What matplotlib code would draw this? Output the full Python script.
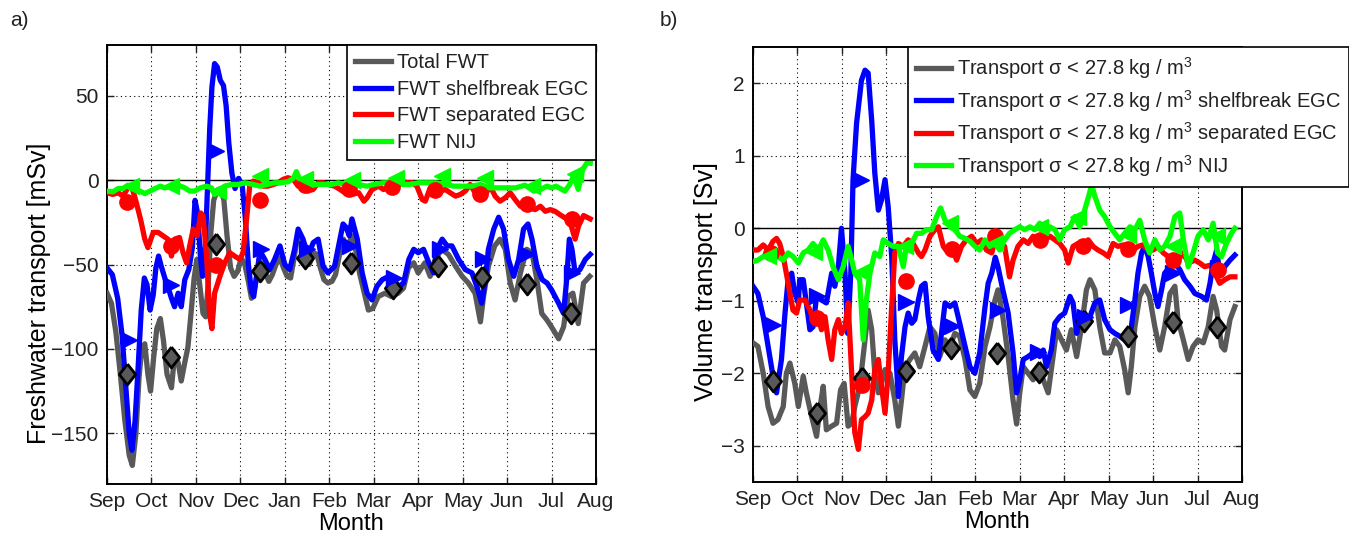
import matplotlib
matplotlib.use("Agg")
import matplotlib.pyplot as plt
import numpy as np

plt.rcParams["font.family"] = ["Liberation Sans", "DejaVu Sans"]
plt.rcParams["mathtext.default"] = "regular"
plt.rcParams["font.size"] = 15
plt.rcParams["text.color"] = "#222222"

months = ["Sep", "Oct", "Nov", "Dec", "Jan", "Feb", "Mar", "Apr", "May", "Jun", "Jul", "Aug"]

GREY = "#595959"
BLUE = "#0000ff"
RED = "#ff0000"
GREEN = "#00ff00"

# ---------------- a) freshwater transport [mSv], (month, value) ----------------
fwt_total = [
    (0, -67), (0.1, -73), (0.2, -90), (0.3, -115), (0.4, -142), (0.5, -163), (0.57, -169),
    (0.65, -150), (0.72, -117), (0.78, -100), (0.85, -97), (0.92, -115), (0.98, -125),
    (1.05, -105), (1.12, -88), (1.2, -82), (1.27, -95), (1.35, -115), (1.45, -123),
    (1.52, -104), (1.6, -108), (1.67, -119), (1.75, -108), (1.82, -99), (1.9, -76),
    (1.96, -58), (2.02, -47), (2.09, -63), (2.16, -79), (2.22, -81), (2.28, -60),
    (2.34, -30), (2.4, -12), (2.48, -6), (2.56, -5), (2.63, -12), (2.7, -33), (2.78, -52),
    (2.86, -57), (2.94, -54), (3.02, -46), (3.1, -50), (3.18, -60), (3.25, -70),
    (3.32, -64), (3.4, -52), (3.48, -50), (3.56, -55), (3.64, -60), (3.72, -56),
    (3.8, -50), (3.89, -46), (3.97, -52), (4.05, -57), (4.13, -58), (4.21, -46),
    (4.3, -31), (4.38, -38), (4.46, -49), (4.55, -50), (4.64, -43), (4.72, -44),
    (4.8, -52), (4.88, -59), (4.97, -61), (5.06, -60), (5.14, -56), (5.24, -43),
    (5.32, -35), (5.4, -40), (5.51, -33), (5.6, -42), (5.68, -55), (5.78, -66),
    (5.88, -77), (5.98, -76), (6.1, -69), (6.25, -67), (6.4, -69), (6.55, -67),
    (6.67, -64), (6.78, -52), (6.9, -49), (7.0, -55), (7.15, -49), (7.27, -57),
    (7.38, -47), (7.53, -41), (7.68, -44), (7.84, -51), (7.99, -57), (8.13, -61),
    (8.28, -67), (8.4, -84), (8.47, -69), (8.58, -51), (8.72, -39), (8.84, -35),
    (8.96, -41), (9.07, -61), (9.18, -71), (9.3, -55), (9.44, -41), (9.56, -43),
    (9.67, -59), (9.78, -79), (9.9, -83), (10.0, -87), (10.16, -94), (10.27, -87),
    (10.37, -69), (10.48, -67), (10.6, -85), (10.72, -61), (10.86, -57),
]
fwt_shelfbreak = [
    (0, -52), (0.12, -56), (0.24, -70), (0.34, -92), (0.43, -125), (0.5, -150),
    (0.56, -160), (0.63, -143), (0.7, -111), (0.77, -77), (0.84, -58), (0.9, -62),
    (0.97, -77), (1.04, -68), (1.1, -52), (1.16, -45), (1.22, -51), (1.3, -58),
    (1.38, -64), (1.45, -70), (1.52, -75), (1.6, -67), (1.67, -75), (1.75, -59),
    (1.84, -53), (1.92, -40), (1.98, -12), (2.04, -20), (2.1, -45), (2.15, -57),
    (2.21, -40), (2.26, -5), (2.31, 30), (2.36, 55), (2.42, 69), (2.48, 67), (2.55, 59),
    (2.62, 56), (2.68, 44), (2.74, 22), (2.81, 4), (2.88, -5), (2.96, 1), (3.04, -3),
    (3.11, -22), (3.18, -50), (3.25, -66), (3.3, -69), (3.37, -56), (3.44, -42),
    (3.55, -47), (3.66, -53), (3.77, -47), (3.89, -39), (4.0, -50), (4.11, -53),
    (4.22, -41), (4.3, -29), (4.41, -35), (4.52, -45), (4.64, -37), (4.75, -35),
    (4.86, -51), (4.97, -55), (5.12, -51), (5.24, -35), (5.31, -26), (5.38, -28),
    (5.45, -33), (5.51, -23), (5.63, -35), (5.74, -55), (5.85, -67), (5.96, -71),
    (6.07, -63), (6.19, -59), (6.34, -57), (6.45, -59), (6.56, -63), (6.67, -61),
    (6.79, -47), (6.9, -41), (7.0, -43), (7.12, -41), (7.24, -49), (7.35, -55),
    (7.42, -41), (7.54, -35), (7.65, -39), (7.76, -39), (7.91, -47), (8.06, -53),
    (8.21, -55), (8.32, -63), (8.43, -73), (8.51, -59), (8.58, -41), (8.7, -29),
    (8.81, -22), (8.92, -29), (9.03, -47), (9.15, -57), (9.26, -47), (9.37, -29),
    (9.47, -26), (9.56, -35), (9.67, -51), (9.79, -59), (9.9, -61), (10.0, -65),
    (10.16, -73), (10.27, -79), (10.34, -59), (10.4, -35), (10.46, -41), (10.53, -55),
    (10.64, -53), (10.76, -47), (10.87, -44),
]
fwt_separated = [
    (0, -7.5), (0.13, -8.5), (0.25, -7.5), (0.36, -9.5), (0.47, -4.6), (0.55, -3.6),
    (0.62, -9.5), (0.7, -17.5), (0.77, -25), (0.85, -35), (0.92, -40), (1.04, -31),
    (1.15, -31), (1.26, -33), (1.37, -35), (1.45, -45), (1.52, -35), (1.63, -34),
    (1.71, -43), (1.79, -49), (1.86, -39), (1.94, -29), (2.03, -33), (2.11, -19.5),
    (2.16, -21), (2.24, -45), (2.31, -80), (2.36, -88), (2.42, -67), (2.54, -57),
    (2.65, -49), (2.76, -43), (2.87, -45), (2.99, -47), (3.06, -43), (3.14, -23),
    (3.21, -3.6), (3.29, -0.6), (3.4, -1.6), (3.51, -3.6), (3.62, -3.6), (3.74, -2.6),
    (3.85, -1.6), (3.96, 0.4), (4.07, 1.4), (4.19, 0.4), (4.3, -3.6), (4.41, -2.6),
    (4.52, -6.5), (4.64, -5.5), (4.75, -1.6), (4.86, -1.6), (4.97, -2.6), (5.12, -3.6),
    (5.24, -5.5), (5.35, -7.5), (5.51, -8.5), (5.66, -7.5), (5.78, -12.5), (5.85, -10.5),
    (5.96, -5.6), (6.11, -3.6), (6.22, -5.6), (6.34, -3.6), (6.49, -1.6), (6.64, -0.6),
    (6.75, -1.6), (6.86, -1.6), (6.97, -3.6), (7.09, -11.5), (7.16, -12.5), (7.27, -4.6),
    (7.39, -5.6), (7.5, -6.5), (7.61, -5.6), (7.72, -7.5), (7.84, -9.5), (7.95, -8.5),
    (8.06, -6.5), (8.17, -2.6), (8.28, -7.5), (8.4, -9.5), (8.51, -8.5), (8.62, -3.6),
    (8.73, -9.5), (8.84, -12.5), (8.96, -10.5), (9.07, -7.5), (9.18, -11.5), (9.3, -15.5),
    (9.41, -13.5), (9.52, -16.5), (9.63, -17.5), (9.75, -15.5), (9.86, -18.5),
    (9.97, -17.5), (10.08, -18.5), (10.19, -20.5), (10.31, -22.5), (10.42, -25),
    (10.53, -35), (10.61, -27), (10.72, -21), (10.87, -23),
]
fwt_nij = [
    (0, -6.5), (0.13, -7), (0.25, -5), (0.36, -5), (0.47, -3), (0.55, -5), (0.7, -6),
    (0.85, -8), (0.97, -6.5), (1.08, -5), (1.2, -3.6), (1.3, -4.6), (1.45, -3.6),
    (1.6, -3), (1.75, -4.6), (1.86, -6.5), (1.97, -6.5), (2.1, -4.6), (2.24, -3.6),
    (2.35, -4.6), (2.42, -8.5), (2.5, -6.5), (2.65, -3.6), (2.8, -2.6), (2.95, -2.6),
    (3.1, -1.6), (3.29, -2.6), (3.44, -3.6), (3.6, -2.6), (3.77, -1.6), (3.9, -1.6),
    (4.07, -1), (4.19, 1), (4.26, 5), (4.34, 0), (4.45, -2), (4.6, -3), (4.75, -2.6),
    (4.9, -2.6), (5.05, -2.6), (5.2, -1.6), (5.35, -2.6), (5.5, -1.6), (5.66, -2.6),
    (5.85, -3.6), (6.0, -2.6), (6.22, -1.6), (6.4, -1.6), (6.6, -2.6), (6.8, -2.6),
    (7.0, -1.6), (7.2, -1.6), (7.4, -1.6), (7.6, -2.6), (7.8, -3.6), (8.0, -3.6),
    (8.2, -3.6), (8.4, -2.6), (8.6, -4.6), (8.8, -4.6), (9.0, -4.6), (9.2, -4.6),
    (9.4, -3), (9.6, -6.5), (9.75, -5.5), (9.9, -3.6), (10.0, -4.6), (10.1, -3.6),
    (10.3, -6.5), (10.4, -3), (10.5, 2.4), (10.6, -5.5), (10.7, 6.3), (10.8, 10.3),
    (10.87, 10),
]

# monthly symbols on each curve
fwt_total_mk = [(0.44, -114.6), (1.43, -105), (2.45, -38), (3.44, -53.6), (4.45, -46),
                (5.48, -49), (6.44, -64), (7.45, -50.8), (8.44, -57.5), (9.45, -61.5),
                (10.44, -79)]
fwt_shelfbreak_mk = [(0.5, -95), (1.45, -62), (2.46, 17), (3.47, -41), (4.49, -41),
                     (5.47, -39), (6.45, -58), (7.5, -41), (8.45, -47), (9.45, -44),
                     (10.46, -55)]
fwt_separated_mk = [(0.44, -13), (1.45, -39), (2.46, -50), (3.44, -12), (4.45, -3),
                    (5.45, -5), (6.4, -4), (7.38, -6), (8.38, -8), (9.45, -14),
                    (10.46, -23)]
fwt_nij_mk = [(0.55, -3.6), (1.45, -3.6), (2.5, -6.5), (3.44, 2.4), (4.45, 0.4),
              (5.5, 0), (6.49, 1.4), (7.54, 2.4), (8.5, 1.4), (9.56, -3.6), (10.53, 3.4)]

# ---------------- b) volume transport [Sv], (month, value) ----------------
vol_total = [
    (0, -1.58), (0.11, -1.63), (0.23, -2.0), (0.34, -2.46), (0.45, -2.69), (0.56, -2.64),
    (0.68, -2.46), (0.75, -2.0), (0.83, -1.86), (0.94, -2.14), (1.02, -2.46),
    (1.13, -2.04), (1.2, -2.27), (1.32, -2.6), (1.43, -2.87), (1.5, -2.5), (1.58, -2.18),
    (1.65, -2.78), (1.77, -2.73), (1.88, -2.69), (1.97, -2.23), (2.05, -2.14),
    (2.14, -2.73), (2.22, -2.69), (2.29, -2.46), (2.4, -2.18), (2.52, -1.54),
    (2.59, -1.13), (2.67, -1.4), (2.74, -2.0), (2.82, -2.27), (2.89, -2.14),
    (2.97, -1.95), (3.08, -2.0), (3.19, -2.37), (3.27, -2.73), (3.34, -2.37),
    (3.42, -1.91), (3.53, -1.81), (3.64, -1.72), (3.75, -1.91), (3.87, -1.63),
    (3.98, -1.36), (4.09, -1.45), (4.2, -1.77), (4.32, -1.54), (4.43, -1.63),
    (4.54, -1.45), (4.65, -1.49), (4.77, -1.81), (4.88, -2.23), (4.99, -2.32),
    (5.1, -2.14), (5.22, -1.63), (5.33, -1.36), (5.44, -1.0), (5.51, -0.85),
    (5.62, -1.22), (5.74, -1.77), (5.85, -2.37), (5.93, -2.7), (6.0, -2.27),
    (6.08, -1.91), (6.19, -2.0), (6.3, -2.09), (6.41, -2.0), (6.53, -2.09),
    (6.64, -2.27), (6.75, -1.77), (6.83, -1.4), (6.94, -1.54), (7.05, -1.68),
    (7.16, -1.4), (7.28, -1.77), (7.39, -1.36), (7.5, -0.85), (7.58, -0.71),
    (7.69, -0.85), (7.8, -1.36), (7.91, -1.72), (8.03, -1.72), (8.14, -1.54),
    (8.25, -1.63), (8.36, -1.95), (8.44, -2.27), (8.51, -1.91), (8.59, -1.36),
    (8.7, -0.94), (8.81, -0.8), (8.92, -0.94), (9.04, -1.36), (9.15, -1.68),
    (9.26, -1.36), (9.38, -0.9), (9.49, -0.8), (9.56, -1.26), (9.68, -1.54),
    (9.79, -1.81), (9.9, -1.63), (10.01, -1.54), (10.13, -1.58), (10.24, -1.36),
    (10.35, -0.94), (10.43, -1.13), (10.54, -1.63), (10.61, -1.68), (10.73, -1.26),
    (10.84, -1.08),
]
vol_shelfbreak = [
    (0, -0.8), (0.11, -0.9), (0.23, -1.22), (0.34, -1.63), (0.45, -2.04), (0.53, -2.27),
    (0.64, -1.81), (0.72, -1.17), (0.79, -0.71), (0.87, -0.62), (0.94, -0.9),
    (1.02, -1.03), (1.05, -0.71), (1.13, -0.71), (1.2, -1.03), (1.28, -1.4),
    (1.35, -1.36), (1.43, -0.94), (1.54, -0.99), (1.65, -1.03), (1.77, -0.62),
    (1.84, -0.8), (1.92, -0.53), (1.99, 0.0), (2.07, -0.62), (2.13, -1.45), (2.2, -0.62),
    (2.25, 0.67), (2.33, 1.45), (2.44, 2.04), (2.52, 2.18), (2.59, 2.14), (2.67, 1.49),
    (2.74, 0.76), (2.82, 0.25), (2.89, 0.39), (2.97, 0.67), (3.04, 0.3), (3.12, -0.39),
    (3.19, -1.54), (3.27, -2.32), (3.34, -1.77), (3.42, -1.36), (3.49, -1.17),
    (3.57, -1.31), (3.64, -1.26), (3.72, -0.99), (3.79, -0.8), (3.87, -0.76),
    (3.94, -1.22), (4.05, -1.68), (4.17, -1.81), (4.24, -1.45), (4.32, -1.03),
    (4.43, -1.08), (4.54, -1.03), (4.65, -1.31), (4.77, -1.63), (4.88, -1.91),
    (4.99, -2.0), (5.1, -1.72), (5.22, -1.08), (5.29, -0.76), (5.37, -0.62),
    (5.45, -0.4), (5.51, -0.53), (5.62, -0.85), (5.74, -1.17), (5.85, -1.72),
    (5.93, -2.27), (6.0, -2.09), (6.08, -1.81), (6.19, -1.77), (6.3, -1.72),
    (6.38, -1.68), (6.45, -1.77), (6.53, -1.68), (6.6, -1.91), (6.71, -1.68),
    (6.79, -1.31), (6.9, -1.22), (7.01, -1.17), (7.13, -0.94), (7.2, -1.03),
    (7.28, -1.45), (7.35, -1.22), (7.46, -1.26), (7.58, -1.22), (7.69, -1.03),
    (7.8, -0.99), (7.91, -1.26), (8.03, -1.4), (8.14, -1.45), (8.25, -1.49),
    (8.36, -1.54), (8.44, -1.54), (8.51, -1.36), (8.59, -0.99), (8.66, -0.62),
    (8.74, -0.34), (8.81, -0.25), (8.89, -0.39), (8.96, -0.62), (9.04, -0.9),
    (9.11, -1.08), (9.19, -0.85), (9.26, -0.62), (9.38, -0.53), (9.49, -0.48),
    (9.6, -0.57), (9.71, -0.71), (9.83, -0.8), (9.94, -0.9), (10.09, -0.94),
    (10.2, -0.99), (10.28, -0.76), (10.35, -0.48), (10.43, -0.3), (10.5, -0.62),
    (10.61, -0.53), (10.73, -0.44), (10.84, -0.37),
]
vol_separated = [
    (0, -0.3), (0.11, -0.3), (0.23, -0.23), (0.34, -0.3), (0.45, -0.18), (0.53, -0.14),
    (0.6, -0.21), (0.68, -0.39), (0.75, -0.62), (0.83, -0.9), (0.9, -1.13),
    (0.98, -1.17), (1.05, -0.99), (1.17, -0.99), (1.28, -1.13), (1.35, -1.26),
    (1.47, -1.22), (1.54, -1.4), (1.62, -1.22), (1.69, -1.54), (1.77, -1.81),
    (1.84, -1.4), (1.92, -1.26), (1.99, -1.45), (2.07, -1.36), (2.14, -1.03),
    (2.22, -2.0), (2.29, -2.82), (2.37, -3.05), (2.44, -2.64), (2.52, -2.6),
    (2.59, -2.55), (2.67, -2.37), (2.74, -1.95), (2.82, -1.81), (2.89, -2.18),
    (2.97, -2.55), (3.04, -2.0), (3.12, -1.08), (3.19, -0.34), (3.27, -0.21),
    (3.38, -0.25), (3.49, -0.16), (3.6, -0.21), (3.72, -0.34), (3.79, -0.39),
    (3.87, -0.3), (3.98, -0.11), (4.09, -0.02), (4.17, 0.02), (4.28, -0.25),
    (4.39, -0.34), (4.5, -0.3), (4.58, -0.44), (4.69, -0.25), (4.8, -0.16),
    (4.92, -0.11), (5.03, -0.21), (5.14, -0.16), (5.25, -0.3), (5.37, -0.34),
    (5.46, -0.14), (5.55, -0.21), (5.66, -0.25), (5.77, -0.67), (5.85, -0.44),
    (5.96, -0.25), (6.08, -0.16), (6.19, -0.21), (6.3, -0.11), (6.41, -0.21),
    (6.56, -0.16), (6.68, -0.11), (6.79, -0.16), (6.9, -0.21), (7.01, -0.3),
    (7.09, -0.48), (7.2, -0.25), (7.31, -0.21), (7.43, -0.25), (7.54, -0.16),
    (7.65, -0.25), (7.76, -0.3), (7.88, -0.34), (7.99, -0.39), (8.1, -0.21),
    (8.21, -0.25), (8.33, -0.23), (8.44, -0.25), (8.55, -0.3), (8.66, -0.25),
    (8.77, -0.23), (8.89, -0.3), (9.0, -0.3), (9.11, -0.25), (9.23, -0.34),
    (9.34, -0.39), (9.45, -0.44), (9.56, -0.44), (9.68, -0.34), (9.79, -0.48),
    (9.94, -0.44), (10.05, -0.48), (10.16, -0.53), (10.28, -0.51), (10.39, -0.62),
    (10.5, -0.76), (10.61, -0.71), (10.73, -0.67), (10.84, -0.67),
]
vol_nij = [
    (0, -0.46), (0.11, -0.44), (0.23, -0.39), (0.34, -0.34), (0.45, -0.3), (0.56, -0.39),
    (0.68, -0.44), (0.79, -0.34), (0.9, -0.39), (1.02, -0.48), (1.13, -0.34),
    (1.24, -0.3), (1.35, -0.21), (1.47, -0.3), (1.58, -0.16), (1.69, -0.3),
    (1.8, -0.53), (1.92, -0.71), (2.03, -0.53), (2.14, -0.25), (2.22, -0.44),
    (2.29, -0.62), (2.4, -0.71), (2.48, -1.54), (2.55, -0.99), (2.63, -0.62),
    (2.74, -0.34), (2.85, -0.39), (2.93, -0.16), (3.04, -0.21), (3.15, -0.25),
    (3.27, -0.25), (3.38, -0.53), (3.45, -0.25), (3.57, -0.21), (3.68, -0.07),
    (3.79, -0.07), (3.9, -0.02), (4.02, -0.02), (4.13, 0.16), (4.22, 0.28),
    (4.32, 0.11), (4.43, 0.02), (4.54, -0.02), (4.65, -0.11), (4.77, -0.14),
    (4.88, -0.18), (4.99, -0.25), (5.1, -0.3), (5.22, -0.16), (5.33, -0.25),
    (5.44, -0.2), (5.55, -0.3), (5.66, -0.16), (5.77, -0.07), (5.89, -0.02),
    (6.0, 0.02), (6.11, -0.02), (6.23, 0.02), (6.34, -0.02), (6.45, 0.07),
    (6.56, -0.11), (6.68, 0.02), (6.79, -0.02), (6.9, -0.16), (7.01, -0.02),
    (7.13, 0.02), (7.24, 0.16), (7.35, 0.02), (7.46, 0.25), (7.55, 0.44), (7.62, 0.6),
    (7.69, 0.44), (7.8, 0.25), (7.91, 0.16), (8.03, 0.02), (8.14, -0.07),
    (8.25, -0.16), (8.36, -0.07), (8.48, 0.02), (8.59, -0.02), (8.7, 0.11),
    (8.81, -0.16), (8.92, -0.34), (9.04, -0.16), (9.15, -0.3), (9.26, -0.25),
    (9.38, -0.11), (9.49, 0.16), (9.6, 0.21), (9.68, -0.16), (9.79, -0.53),
    (9.9, -0.34), (10.01, -0.11), (10.13, -0.02), (10.24, -0.16), (10.35, 0.07),
    (10.45, -0.34), (10.54, -0.39), (10.65, -0.21), (10.76, -0.07), (10.84, 0.0),
]

vol_total_mk = [(0.44, -2.11), (1.44, -2.55), (2.45, -2.06), (3.45, -1.97), (4.46, -1.65),
                (5.48, -1.72), (6.43, -1.98), (7.44, -1.28), (8.44, -1.49), (9.45, -1.29),
                (10.44, -1.36)]
vol_shelfbreak_mk = [(0.45, -1.34), (1.43, -0.94), (2.44, 0.67), (3.45, -1.02), (4.47, -1.35),
                     (5.5, -1.13), (6.41, -1.7), (7.46, -1.22), (8.44, -1.06), (9.45, -0.62),
                     (10.46, -0.55)]
vol_separated_mk = [(0.41, -0.34), (1.43, -1.24), (2.46, -2.16), (3.45, -0.73), (4.47, -0.28),
                    (5.44, -0.11), (6.45, -0.16), (7.43, -0.25), (8.44, -0.28), (9.45, -0.44),
                    (10.46, -0.57)]
vol_nij_mk = [(0.34, -0.38), (1.38, -0.33), (2.43, -0.6), (3.42, -0.25), (4.43, 0.07),
              (5.44, -0.2), (6.45, 0.02), (7.3, 0.16), (8.44, -0.09), (9.45, -0.25),
              (10.43, -0.11)]

labels_a = ["Total FWT", "FWT shelfbreak EGC", "FWT separated EGC", "FWT NIJ"]
sigma = r"Transport $\sigma$ < 27.8 kg / m$^3$"
labels_b = [sigma, sigma + " shelfbreak EGC", sigma + " separated EGC", sigma + " NIJ"]

# tall diamond, like MATLAB's 'd'
tall_diamond = [(0, 1), (0.78, 0), (0, -1), (-0.78, 0), (0, 1)]

styles = [
    dict(color=GREY, marker=tall_diamond, mfc=GREY, mec="black", mew=2.0, ms=15),
    dict(color=BLUE, marker=">", mfc=BLUE, mec=BLUE, mew=1, ms=12),
    dict(color=RED, marker="o", mfc=RED, mec=RED, mew=1, ms=11),
    dict(color=GREEN, marker="<", mfc=GREEN, mec=GREEN, mew=1, ms=12),
]


def draw_panel(ax, lines, marks, labels, ylim, yticks, ylabel, label_xy):
    handles = []
    for data, lab, st in zip(lines, labels, styles):
        x, y = np.array(data).T
        h, = ax.plot(x, y, color=st["color"], lw=3.8, solid_joinstyle="round", label=lab, zorder=3)
        handles.append(h)
    for mk, st in zip(marks, styles):
        mx, my = np.array(mk).T
        ax.plot(mx, my, ls="none", marker=st["marker"], ms=st["ms"], mfc=st["mfc"],
                mec=st["mec"], mew=st["mew"], zorder=4)
    ax.axhline(0, color="black", lw=1.0, zorder=2)
    ax.set_xlim(0, 11)
    ax.set_ylim(*ylim)
    ax.set_xticks(range(12))
    ax.set_xticklabels(months)
    ax.set_yticks(yticks)
    ax.set_yticklabels([str(t).replace("-", "\u2212") for t in yticks])
    ax.grid(True, color="black", ls=(0, (1, 3)), lw=0.8)
    ax.tick_params(direction="in", top=True, right=True, length=5, width=1.0,
                   labelsize=15, colors="#222222", pad=6)
    for sp in ax.spines.values():
        sp.set_linewidth(1.4)
    ax.set_xlabel("Month", fontsize=17, labelpad=1)
    ax.set_ylabel(ylabel, fontsize=18)
    ax.yaxis.set_label_coords(*label_xy)
    return handles


fig = plt.figure(figsize=(13.49, 5.33), dpi=100)
W, H = 1349, 533
ax_a = fig.add_axes([107 / W, 1 - 484 / H, 489 / W, 439 / H])
ax_b = fig.add_axes([753 / W, 1 - 482 / H, 489 / W, 435 / H])

h_a = draw_panel(ax_a, [fwt_total, fwt_shelfbreak, fwt_separated, fwt_nij],
                 [fwt_total_mk, fwt_shelfbreak_mk, fwt_separated_mk, fwt_nij_mk],
                 labels_a, (-180, 80), [-150, -100, -50, 0, 50], "Freshwater transport [mSv]",
                 (-0.115, 0.435))
h_b = draw_panel(ax_b, [vol_total, vol_shelfbreak, vol_separated, vol_nij],
                 [vol_total_mk, vol_shelfbreak_mk, vol_separated_mk, vol_nij_mk],
                 labels_b, (-3.5, 2.5), [-3, -2, -1, 0, 1, 2], "Volume transport [Sv]",
                 (-0.072, 0.46))

leg_kw = dict(fontsize=14.5, frameon=True, fancybox=False, framealpha=1, edgecolor="black",
              handlelength=1.75, handletextpad=0.3, borderpad=0.4, borderaxespad=0)
leg_a = ax_a.legend(handles=h_a, loc="upper right", labelspacing=0.38, **leg_kw)
leg_b = fig.legend(handles=h_b, loc="upper left", bbox_to_anchor=(908 / W, 1 - 47 / H),
                   labelspacing=0.33, **leg_kw)
for leg in (leg_a, leg_b):
    leg.get_frame().set_linewidth(1.2)
    leg.set_zorder(10)

fig.text(10 / W, 1 - 20 / H, "a)", fontsize=15, va="center")
fig.text(660 / W, 1 - 20 / H, "b)", fontsize=15, va="center")

fig.savefig("out.png", dpi=100)
